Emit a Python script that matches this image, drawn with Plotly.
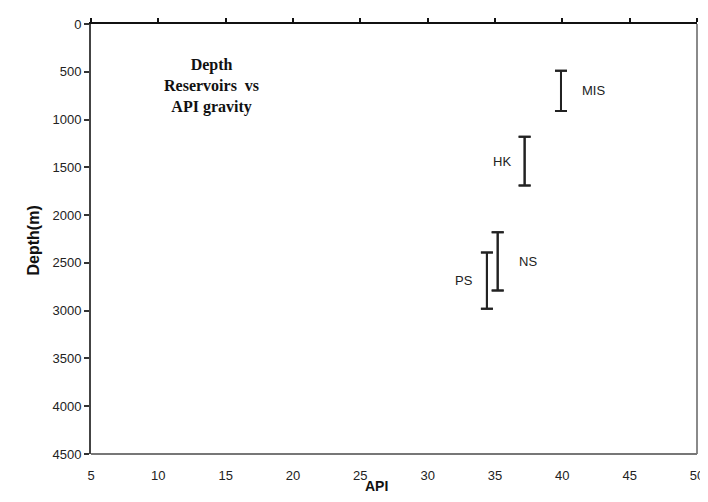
import plotly.graph_objects as go

# Data
reservoirs = ["MIS", "HK", "NS", "PS"]
api = [39.9, 37.2, 35.2, 34.4]
depth_top = [490, 1180, 2180, 2390]
depth_bottom = [910, 1690, 2790, 2980]
label_side = ["right", "left", "right", "left"]

x_ticks = [5, 10, 15, 20, 25, 30, 35, 40, 45, 50]
y_ticks = [0, 500, 1000, 1500, 2000, 2500, 3000, 3500, 4000, 4500]

# page body has an 8px margin; lay out in screen pixels
OFF = 8
W, H = 708 - OFF, 502 - 2 * OFF
left, right, top, bottom = 91, 697, 24, 454  # plot area in screen pixels
ml, mt = left - OFF, top - OFF
mr, mb = (W + OFF) - right, (H + OFF) - bottom
pw, ph = right - left, bottom - top


def px(sx):
    return (sx - left) / pw


def py(sy):
    return (bottom - sy) / ph


fig = go.Figure()

spans = [b - t for t, b in zip(depth_top, depth_bottom)]
fig.add_trace(go.Scatter(
    x=api, y=depth_top, mode="markers",
    marker=dict(size=0.1, color="rgba(0,0,0,0)"),
    error_y=dict(type="data", symmetric=False, array=spans,
                 arrayminus=[0] * len(api), color="#222", thickness=2, width=6),
    showlegend=False, hoverinfo="skip",
))
fig.add_trace(go.Scatter(
    x=api, y=depth_bottom, mode="markers",
    marker=dict(size=0.1, color="rgba(0,0,0,0)"),
    error_y=dict(type="data", symmetric=False, array=[0] * len(api),
                 arrayminus=spans, color="#222", thickness=2, width=6),
    showlegend=False, hoverinfo="skip",
))

# invisible trace for top axis
fig.add_trace(go.Scatter(x=[x_ticks[0], x_ticks[-1]], y=[0, 0], xaxis="x2",
                         mode="markers", marker=dict(size=0.1, color="rgba(0,0,0,0)"),
                         showlegend=False, hoverinfo="skip"))

for name, a, t, b, side in zip(reservoirs, api, depth_top, depth_bottom, label_side):
    fig.add_annotation(
        x=a, y=(t + b) / 2, xref="x", yref="y", text=name, showarrow=False,
        xanchor="left" if side == "right" else "right",
        xshift=19 if side == "right" else -12,
        font=dict(family="Liberation Sans, Arial", size=13, color="#222"),
    )

fig.add_annotation(
    x=px(211), y=py(86), xref="paper", yref="paper",
    text="<b>Depth</b><br><b>Reservoirs  vs</b><br><b>API gravity</b>",
    showarrow=False, font=dict(family="Liberation Serif, Times New Roman", size=16, color="#111"),
    align="center", xanchor="center", yanchor="middle",
)

fig.add_annotation(
    x=px(376), y=py(476), xref="paper", yref="paper",
    text="<b>API</b>", showarrow=False, yanchor="top",
    font=dict(family="Liberation Sans, Arial", size=14, color="#111"),
)
fig.add_annotation(
    x=px(22), y=py(241), xref="paper", yref="paper",
    text="<b>Depth(m)</b>", textangle=-90, showarrow=False,
    font=dict(family="Liberation Sans Narrow, Arial Narrow, Liberation Sans", size=16, color="#111"),
)

# right and bottom border (gray)
fig.add_shape(type="line", xref="paper", yref="paper", x0=1, x1=1, y0=0, y1=1,
              line=dict(color="#8a8a8a", width=2))
fig.add_shape(type="line", xref="paper", yref="paper", x0=0, x1=1, y0=0, y1=0,
              line=dict(color="#777", width=2))

fig.update_layout(
    width=W, height=H,
    margin=dict(l=ml, r=mr, t=mt, b=mb, autoexpand=False),
    paper_bgcolor="white", plot_bgcolor="white",
    xaxis=dict(range=[x_ticks[0], x_ticks[-1]], tickvals=x_ticks, ticks="",
               showgrid=False, zeroline=False, showline=False, automargin=False,
               tickfont=dict(family="Liberation Sans, Arial", size=13, color="#222"),
               ticklabelstandoff=12),
    xaxis2=dict(range=[x_ticks[0], x_ticks[-1]], tickvals=x_ticks, overlaying="x",
                side="top", showticklabels=False, ticks="outside", ticklen=4,
                tickcolor="#111", tickwidth=1.5, showline=True, linecolor="#111",
                linewidth=2, showgrid=False, zeroline=False, automargin=False),
    yaxis=dict(range=[y_ticks[-1], y_ticks[0]], tickvals=y_ticks, ticks="outside",
               ticklen=5, tickcolor="#333", tickwidth=1.5, showline=True,
               linecolor="#444", linewidth=2, showgrid=False, zeroline=False,
               automargin=False,
               tickfont=dict(family="Liberation Sans, Arial", size=13, color="#222")),
)

fig.write_html("out.html")
